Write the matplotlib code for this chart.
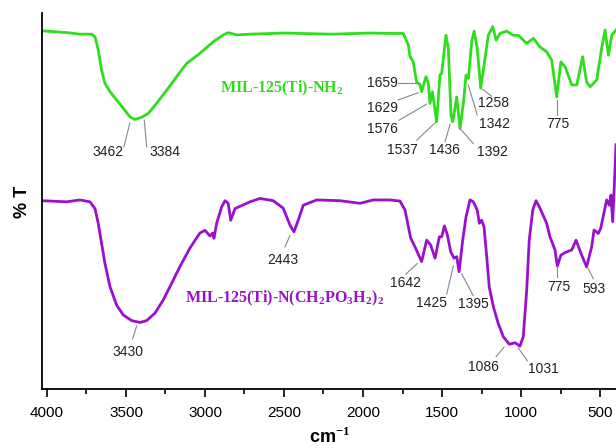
import matplotlib
matplotlib.use("Agg")
from matplotlib import pyplot as plt
from matplotlib.ticker import MultipleLocator

plt.rcParams['mathtext.fontset'] = 'custom'
plt.rcParams['mathtext.bf'] = 'Liberation Serif:bold'

# wavenumber (cm-1) / transmittance (a.u. %T)
nh2_wn = [4032, 3870, 3791, 3717, 3696, 3675, 3654, 3633, 3601, 3559, 3517, 3475,
          3443, 3401, 3359, 3306, 3242, 3179, 3116, 3032, 2947, 2884, 2853, 2799,
          2715, 2500, 2200, 1950, 1829, 1745, 1713, 1703, 1682, 1661, 1639,
          1629, 1601, 1587, 1576, 1561, 1534, 1513, 1502, 1475, 1460, 1443, 1432,
          1407, 1386, 1364, 1348, 1333, 1312, 1297, 1277, 1255, 1234, 1207, 1179,
          1158, 1133, 1091, 1049, 1017, 964, 922, 880, 838, 806, 774, 748, 721,
          679, 647, 610, 585, 563, 521, 490, 468, 447, 426, 399]
nh2_t = [95.3, 94.8, 94.4, 94.4, 93.7, 90.2, 84.8, 81.3, 79.1, 76.9, 74.7, 72.4,
         71.7, 72.3, 73.3, 76.0, 79.5, 83.1, 86.6, 89.3, 92.4, 94.2, 94.8, 94.2,
         94.4, 94.7, 94.4, 94.7, 94.6, 94.6, 91.5, 88.5, 87.0, 81.7, 80.9,
         79.1, 83.1, 81.3, 76.0, 79.1, 71.1, 83.5, 84.0, 94.1, 90.6, 72.9, 71.1,
         77.7, 69.3, 76.4, 83.5, 82.6, 92.4, 95.2, 90.6, 80.0, 86.2, 94.1, 96.4,
         92.8, 94.6, 95.2, 94.1, 94.1, 91.9, 93.3, 91.0, 89.7, 87.5, 77.7, 87.0,
         85.7, 80.9, 80.9, 88.4, 81.7, 80.4, 82.2, 90.6, 95.5, 88.8, 94.1, 95.5]

po3_wn = [4032, 3875, 3791, 3728, 3696, 3675, 3654, 3633, 3601, 3559, 3517, 3464,
          3411, 3369, 3316, 3264, 3211, 3158, 3095, 3032, 3000, 2968, 2951, 2943,
          2926, 2894, 2873, 2853, 2837, 2810, 2715, 2652, 2568, 2505, 2462, 2437,
          2410, 2378, 2293, 2146, 2019, 1935,
          1829, 1766, 1734, 1713, 1698, 1671, 1629, 1597, 1572, 1544, 1517, 1502,
          1485, 1466, 1445, 1424, 1407, 1392, 1369, 1348, 1323, 1302, 1277, 1264,
          1249, 1234, 1217, 1201, 1175, 1144, 1112, 1074, 1038, 1007, 986, 964,
          948, 926, 905, 880, 838, 817,
          785, 770, 748, 721, 679, 652, 616, 585, 553, 538, 511, 496, 458,
          442, 431, 420, 411, 399]
po3_t = [50.1, 49.8, 50.3, 49.8, 48.0, 44.0, 38.7, 33.4, 27.2, 22.3, 19.7, 18.2,
         17.7, 18.2, 20.2, 23.7, 28.1, 32.6, 37.5, 41.5, 42.2, 40.7, 41.5, 40.1,
         44.1, 48.5, 50.1, 49.4, 44.9, 48.0, 49.8, 50.7, 50.1, 48.1, 43.6, 41.8,
         44.9, 48.9, 50.3, 50.1, 49.4, 50.3,
         50.3, 50.0, 47.6, 43.2, 40.1, 37.8, 33.9, 39.6, 38.3, 34.8, 40.5, 40.5,
         43.4, 41.0, 36.5, 34.8, 35.2, 31.2, 39.6, 45.8, 50.3, 49.8, 47.6, 44.1,
         44.9, 43.1, 35.1, 27.1, 21.9, 17.4, 13.9, 11.9, 12.3, 11.4, 13.9, 26.3,
         39.6, 47.6, 50.1, 48.1, 44.1, 40.5,
         37.0, 32.7, 35.6, 36.3, 37.0, 39.6, 35.6, 32.5, 37.8, 42.3,
         41.4, 42.7, 50.3, 48.9, 51.6, 44.5, 52.9, 65.0]

# peak labels: text, text position, leader line start, leader line end
nh2_peaks = [
    ("3462", (3616, 63.1), (3513, 64.4), (3475, 70.8), "center"),
    ("3384", (3253, 63.0), (3369, 64.4), (3384, 71.5), "center"),
    ("1659", (1783, 81.3), (1778, 81.4), (1639, 81.4), "right"),
    ("1629", (1778, 74.7), (1778, 76.9), (1652, 78.8), "right"),
    ("1576", (1778, 69.3), (1772, 71.5), (1597, 75.8), "right"),
    ("1537", (1753, 63.6), (1660, 66.2), (1544, 70.8), "center"),
    ("1436", (1484, 63.6), (1481, 65.8), (1449, 70.4), "center"),
    ("1392", (1184, 63.1), (1302, 65.3), (1386, 69.3), "center"),
    ("1342", (1168, 70.6), (1277, 72.9), (1334, 80.9), "center"),
    ("1258", (1177, 76.0), (1186, 77.9), (1242, 79.7), "center"),
    ("775", (766, 70.6), (774, 72.9), (774, 76.9), "center"),
]
po3_peaks = [
    ("3430", (3487, 9.8), (3458, 13.3), (3432, 16.8), "center"),
    ("2443", (2506, 34.2), (2494, 37.8), (2462, 40.8), "center"),
    ("1642", (1734, 28.1), (1728, 30.6), (1656, 33.4), "center"),
    ("1425", (1565, 22.9), (1470, 25.3), (1428, 32.8), "center"),
    ("1395", (1304, 22.6), (1302, 24.8), (1375, 30.6), "center"),
    ("1086", (1241, 5.9), (1158, 8.6), (1108, 11.1), "center"),
    ("1031", (861, 5.3), (960, 7.5), (1017, 10.9), "center"),
    ("775", (760, 27.1), (770, 29.7), (770, 32.8), "center"),
    ("593", (538, 26.6), (542, 29.3), (580, 32.4), "center"),
]

green = "#2ede1c"
purple = "#9b10cc"

fig = plt.figure(figsize=(6.16, 4.48), dpi=100)
ax = fig.add_axes([0.068, 0.1317, 0.932, 0.839])

ax.plot(nh2_wn, nh2_t, color=green, lw=2)
ax.plot(po3_wn, po3_t, color=purple, lw=2)

for peaks in (nh2_peaks, po3_peaks):
    for txt, pos, p0, p1, ha in peaks:
        ax.plot([p0[0], p1[0]], [p0[1], p1[1]], color="#888888", lw=0.8)
        ax.text(pos[0], pos[1], txt, ha=ha, va="center", fontsize=10,
                family="Liberation Sans", color="#222222")

ax.text(2905, 80.1, "MIL-125(Ti)-NH$_\\mathbf{2}$", color=green, fontsize=11.5,
        family="Liberation Serif", fontweight="bold", va="center")
ax.text(3127, 24.1, "MIL-125(Ti)-N(CH$_\\mathbf{2}$PO$_\\mathbf{3}$H$_\\mathbf{2}$)$_\\mathbf{2}$",
        color=purple, fontsize=11.5, family="Liberation Serif", fontweight="bold", va="center")

ax.set_xlim(4032, 399)
ax.set_ylim(0, 100)
ax.xaxis.set_major_locator(MultipleLocator(500))
ax.xaxis.set_minor_locator(MultipleLocator(250))
ax.tick_params(axis="x", which="major", direction="out", length=6, width=1.2,
               labelsize=11, pad=6)
ax.tick_params(axis="x", which="minor", direction="out", length=3.5, width=1.2)
for lab in ax.get_xticklabels():
    lab.set_family("Liberation Sans")
ax.set_yticks([])
for s in ("top", "right"):
    ax.spines[s].set_visible(False)
for s in ("left", "bottom"):
    ax.spines[s].set_linewidth(1.3)

fig.text(0.535, 0.025, "cm$^{\\mathbf{-1}}$", fontsize=13, fontweight="bold",
         family="Liberation Sans", ha="center", va="center")
fig.text(0.036, 0.55, "% T", fontsize=13, fontweight="bold", family="Liberation Sans",
         rotation=90, ha="center", va="center")

fig.savefig("out.png", dpi=100)
